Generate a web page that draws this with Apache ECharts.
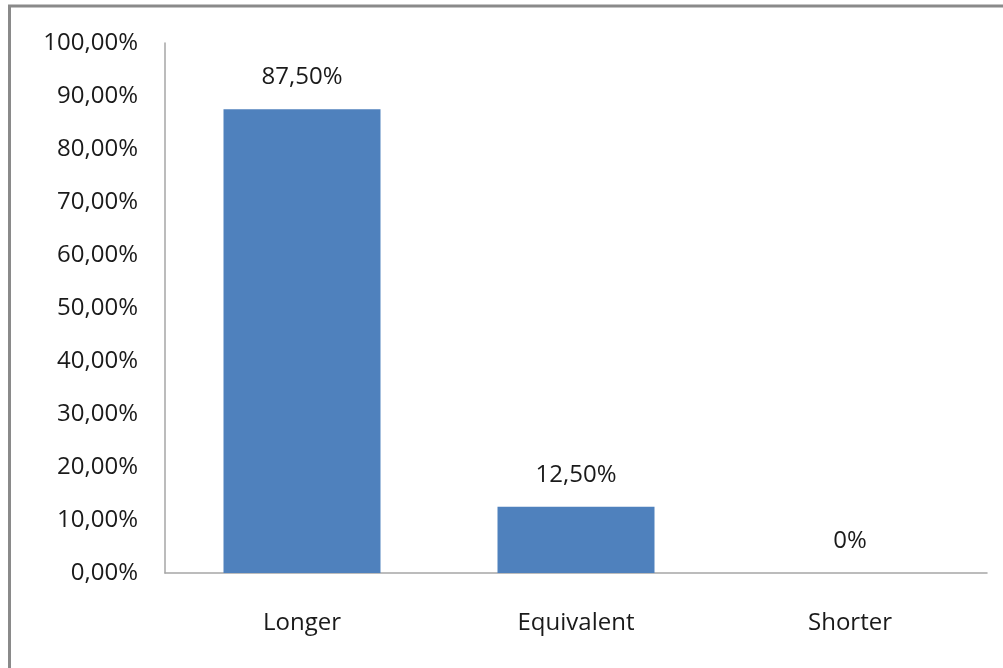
<!DOCTYPE html>
<html>
<head>
<meta charset="utf-8">
<script src="https://cdn.jsdelivr.net/npm/echarts@6/dist/echarts.min.js"></script>
<style>
  html, body { margin: 0; padding: 0; background: #fff; }
  #chart { width: 1003px; height: 668px; }
</style>
</head>
<body>
<div id="chart"></div>
<script>
// Share of responses per duration category
const categories = ['Longer', 'Equivalent', 'Shorter'];
const shares = [87.5, 12.5, 0];
const yTicks = { min: 0, max: 100, step: 10 };

// Percent with a decimal comma; zero is written without decimals on the bars
function pct(v, decimals) {
  return v.toFixed(decimals).replace('.', ',') + '%';
}

const font = '"Open Sans", "Noto Sans", sans-serif';
const chart = echarts.init(document.getElementById('chart'), null, { renderer: 'canvas' });

chart.setOption({
  animation: false,
  backgroundColor: '#ffffff',
  graphic: [{
    type: 'rect',
    silent: true,
    shape: { x: 9.5, y: 6, width: 1100, height: 800 },
    style: { fill: 'none', stroke: '#8a8a8a', lineWidth: 3 }
  }],
  grid: { left: 165, right: 16, top: 43, bottom: 95, containLabel: false },
  xAxis: {
    type: 'category',
    data: categories,
    axisLine: { show: true, lineStyle: { color: '#a6a6a6', width: 1.5 } },
    axisTick: { show: false },
    axisLabel: { color: '#1a1a1a', fontFamily: font, fontSize: 24, margin: 38 }
  },
  yAxis: {
    type: 'value',
    min: yTicks.min,
    max: yTicks.max,
    interval: yTicks.step,
    splitLine: { show: false },
    axisLine: { show: true, lineStyle: { color: '#a6a6a6', width: 1.5 } },
    axisTick: { show: false },
    axisLabel: {
      color: '#1a1a1a', fontFamily: font, fontSize: 24, margin: 27,
      formatter: v => pct(v, 2)
    }
  },
  series: [{
    type: 'bar',
    data: shares,
    barWidth: 157,
    itemStyle: { color: '#4f81bd' },
    label: {
      show: true,
      position: 'top',
      distance: 20,
      color: '#1a1a1a',
      fontFamily: font,
      fontSize: 24,
      formatter: p => p.value === 0 ? '0%' : pct(p.value, 2)
    }
  }]
});
</script>
</body>
</html>
